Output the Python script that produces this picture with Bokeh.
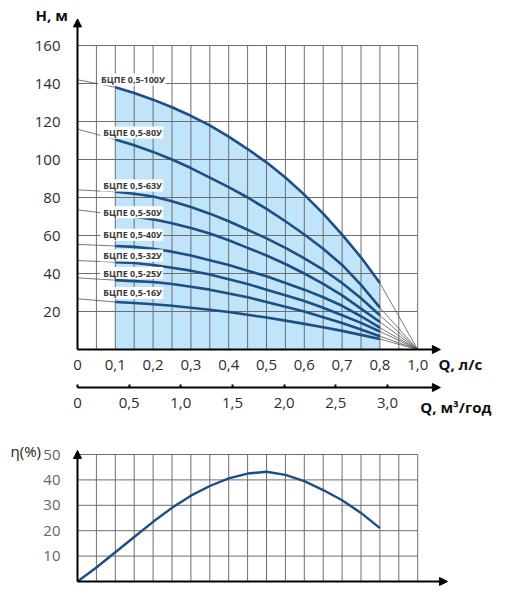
import numpy as np
from bokeh.plotting import figure
from bokeh.layouts import column
from bokeh.models import (Range1d, LinearAxis, FixedTicker, CustomJSTickFormatter,
                          Arrow, NormalHead)
from bokeh.core.properties import value
from bokeh.embed import file_html
from bokeh.resources import INLINE

FONT = "Open Sans"

# ---------------- data ----------------
models = ["БЦПЕ 0,5-100У", "БЦПЕ 0,5-80У", "БЦПЕ 0,5-63У", "БЦПЕ 0,5-50У",
          "БЦПЕ 0,5-40У", "БЦПЕ 0,5-32У", "БЦПЕ 0,5-25У", "БЦПЕ 0,5-16У"]

# flow, l/s (drawn working range of every curve)
q_curve = [0.1, 0.15, 0.2, 0.25, 0.3, 0.35, 0.4, 0.45, 0.5, 0.55, 0.6, 0.65, 0.7, 0.75, 0.8]

h_100 = [138, 135, 131.5, 127.5, 123, 118, 112, 105.5, 98.5, 90.5, 81.5, 71.5, 60.5, 48.5, 35]
h_80 = [110.5, 107.5, 104, 100, 95.5, 90.5, 85.5, 80, 74, 67.5, 60.5, 53, 44.5, 34, 22]
h_63 = [83, 82, 80.5, 78, 75, 71.5, 67.5, 63, 58.5, 53.5, 48, 42, 35, 27, 18]
h_50 = [71, 70, 68.5, 66.5, 64, 61, 57.5, 53.5, 49.5, 45, 40, 34.5, 28.5, 21.5, 14.5]
h_40 = [54.5, 54, 53, 51.5, 49.5, 47, 44.5, 41.5, 38.5, 35, 31.5, 27.5, 23, 17.5, 11.5]
h_32 = [46, 45.5, 44.5, 43, 41.5, 39.5, 37, 34.5, 31.5, 28.5, 25.5, 22, 18, 14, 9.5]
h_25 = [36.5, 36, 35.5, 34.5, 33, 31.5, 29.5, 27.5, 25, 22.5, 20, 17, 14, 10.5, 7]
h_16 = [25, 24.5, 23.8, 23, 22, 20.9, 19.7, 18.3, 16.8, 15.2, 13.5, 11.7, 9.8, 7.7, 5.5]
curves = [h_100, h_80, h_63, h_50, h_40, h_32, h_25, h_16]

# head where each leader line meets the H axis
h_at_axis = [142, 116, 84, 73.5, 55.3, 46.8, 37.7, 26.7]

# Q axis (l/s): the chart is compressed after 0,8 -> "1,0" sits one grid step later
q_ticks = [0, 0.1, 0.2, 0.3, 0.4, 0.5, 0.6, 0.7, 0.8, 0.9]
q_tick_labels = ["0", "0,1", "0,2", "0,3", "0,4", "0,5", "0,6", "0,7", "0,8", "1,0"]
h_ticks = [20, 40, 60, 80, 100, 120, 140, 160]
m3_ticks = [0, 0.5, 1.0, 1.5, 2.0, 2.5, 3.0]
m3_tick_labels = ["0", "0,5", "1,0", "1,5", "2,0", "2,5", "3,0"]

# efficiency
q_eta = [0, 0.05, 0.1, 0.15, 0.2, 0.25, 0.3, 0.35, 0.4, 0.45, 0.5, 0.55, 0.6, 0.65, 0.7, 0.75, 0.8]
eta = [0, 5.5, 11.5, 17.5, 23.5, 29, 33.8, 37.6, 40.6, 42.5, 43.2, 42, 39.5, 36, 32, 27, 21]
eta_ticks = [10, 20, 30, 40, 50]

# ---------------- styles / positions ----------------
CURVE = "#1c4f86"
FILL = "#c0e4f9"
GRID = "#6e6e6e"
THIN = "#555555"

label_h = [142.1, 114.2, 86.3, 72.3, 60.4, 49.5, 40.2, 29.8]
label_q = [0.062, 0.068, 0.068, 0.068, 0.068, 0.068, 0.068, 0.068]

PX_Q = 378.0          # px per 1 l/s
PX_H = 1.9            # px per 1 m
PX_M3 = 103.33        # px per 1 m3/h
PX_ETA = 2.54

W = 505
H1 = 425
H2 = 174
left_px = 77.0       # page x of Q = 0
zero_h_px = 349.0    # page y of H = 0
zero_eta_px = 581.0  # page y of eta = 0

xr = Range1d(-left_px / PX_Q, (W - left_px) / PX_Q)


def fmt(labels):
    return CustomJSTickFormatter(args=dict(labels=labels), code="return labels[index];")


def head():
    return NormalHead(size=8, fill_color="black", line_color="black", line_width=1)


def base_fig(height, yr):
    p = figure(width=W, height=height, x_range=xr, y_range=yr, output_backend="svg",
               toolbar_location=None, title=None, min_border=0,
               min_border_left=0, min_border_right=0, min_border_top=0, min_border_bottom=0)
    p.outline_line_color = None
    p.xgrid.visible = False
    p.ygrid.visible = False
    p.background_fill_color = "white"
    p.border_fill_color = "white"
    return p


def style_axis(ax, color="#2e2e2e"):
    ax.axis_line_color = None
    ax.major_tick_line_color = None
    ax.minor_tick_line_color = None
    ax.major_label_text_font = FONT
    ax.major_label_text_font_size = "15px"
    ax.major_label_text_color = color


# ---------------- top chart ----------------
top_h = zero_h_px / PX_H
p1 = base_fig(H1, Range1d(top_h - H1 / PX_H, top_h))

qg = np.round(np.arange(0, q_ticks[-1] + 1e-9, 0.05), 2)
hg = np.arange(0, h_ticks[-1] + 1e-9, 20)

p1.varea(x=q_curve, y1=0, y2=h_100, fill_color=FILL)
p1.segment(x0=qg, y0=0, x1=qg, y1=h_ticks[-1], line_color=GRID, line_width=1)
p1.segment(x0=0, y0=hg, x1=q_ticks[-1], y1=hg, line_color=GRID, line_width=1)

starts = [c[0] for c in curves]
ends = [c[-1] for c in curves]
p1.segment(x0=0, y0=h_at_axis, x1=q_curve[0], y1=starts, line_color=THIN, line_width=0.8)
p1.segment(x0=q_curve[-1], y0=ends, x1=q_ticks[-1], y1=0, line_color=THIN, line_width=0.8)

for c in curves:
    p1.line(q_curve, c, line_color=CURVE, line_width=2.6, line_join="round")

lab_w = [4.75 * len(m) + 6 for m in models]
lab_xc = [lq + (w / 2 - 3) / PX_Q for lq, w in zip(label_q, lab_w)]
p1.rect(x=lab_xc, y=label_h, width=lab_w, height=12, width_units="screen",
        height_units="screen", fill_color="white", line_color=None)
p1.text(x=label_q, y=label_h, text=models, text_font=value(FONT),
        text_font_size="9px", text_font_style="bold", text_color="#3a3a3a",
        text_baseline="middle", text_align="left")

xa = p1.xaxis[0]
xa.fixed_location = 0
xa.ticker = FixedTicker(ticks=q_ticks, minor_ticks=[])
xa.formatter = fmt(q_tick_labels)
style_axis(xa)
xa.major_label_standoff = 4

ya = p1.yaxis[0]
ya.fixed_location = 0
ya.ticker = FixedTicker(ticks=h_ticks, minor_ticks=[])
style_axis(ya)
ya.major_label_standoff = 11
ya.major_label_text_baseline = "alphabetic"

m3_y = -20
p1.extra_x_ranges = {"m3": Range1d(-left_px / PX_M3, (W - left_px) / PX_M3)}
ma = LinearAxis(x_range_name="m3", fixed_location=m3_y,
                ticker=FixedTicker(ticks=m3_ticks, minor_ticks=[]), formatter=fmt(m3_tick_labels))
style_axis(ma)
ma.major_tick_line_color = "black"
ma.major_tick_line_width = 2
ma.major_tick_in = 3
ma.major_tick_out = 0
ma.major_label_standoff = 10
p1.add_layout(ma, "below")

p1.add_layout(Arrow(end=head(), x_start=0, y_start=0, x_end=0, y_end=174,
                    line_color="black", line_width=2))
p1.add_layout(Arrow(end=head(), x_start=0, y_start=0, x_end=0.96, y_end=0,
                    line_color="black", line_width=2))
p1.add_layout(Arrow(end=head(), x_start=0, y_start=m3_y, x_end=0.96, y_end=m3_y,
                    line_color="black", line_width=2))

p1.text(x=[-0.111, 0.955, 0.907], y=[175.8, -7.4, -30.0],
        text=["H, м", "Q, л/с", "Q, м³/год"], text_font=value(FONT), text_font_size="15px",
        text_font_style="bold", text_color="#111111", text_baseline="middle", text_align="left")

# ---------------- efficiency chart ----------------
top_eta = (zero_eta_px - H1) / PX_ETA
p2 = base_fig(H2, Range1d(top_eta - H2 / PX_ETA, top_eta))
eg = np.arange(0, eta_ticks[-1] + 1e-9, 10)
p2.segment(x0=qg, y0=0, x1=qg, y1=eta_ticks[-1], line_color=GRID, line_width=1)
p2.segment(x0=0, y0=eg, x1=q_ticks[-1], y1=eg, line_color=GRID, line_width=1)
p2.line(q_eta, eta, line_color=CURVE, line_width=2.4, line_join="round")

p2.xaxis.visible = False
ya2 = p2.yaxis[0]
ya2.fixed_location = 0
ya2.ticker = FixedTicker(ticks=eta_ticks, minor_ticks=[])
style_axis(ya2, "#666666")
ya2.major_label_standoff = 11
ya2.major_label_text_baseline = "alphabetic"

p2.add_layout(Arrow(end=head(), x_start=0, y_start=0, x_end=0, y_end=51.6,
                    line_color="black", line_width=2))
p2.add_layout(Arrow(end=head(), x_start=0, y_start=0, x_end=0.979, y_end=0,
                    line_color="black", line_width=2))
p2.text(x=[-0.177], y=[51.3], text=["η(%)"], text_font=value(FONT), text_font_size="15px",
        text_color="#222222", text_baseline="middle", text_align="left")

layout = column(p1, p2, spacing=0)
open("out.html", "w").write(file_html(layout, INLINE))
